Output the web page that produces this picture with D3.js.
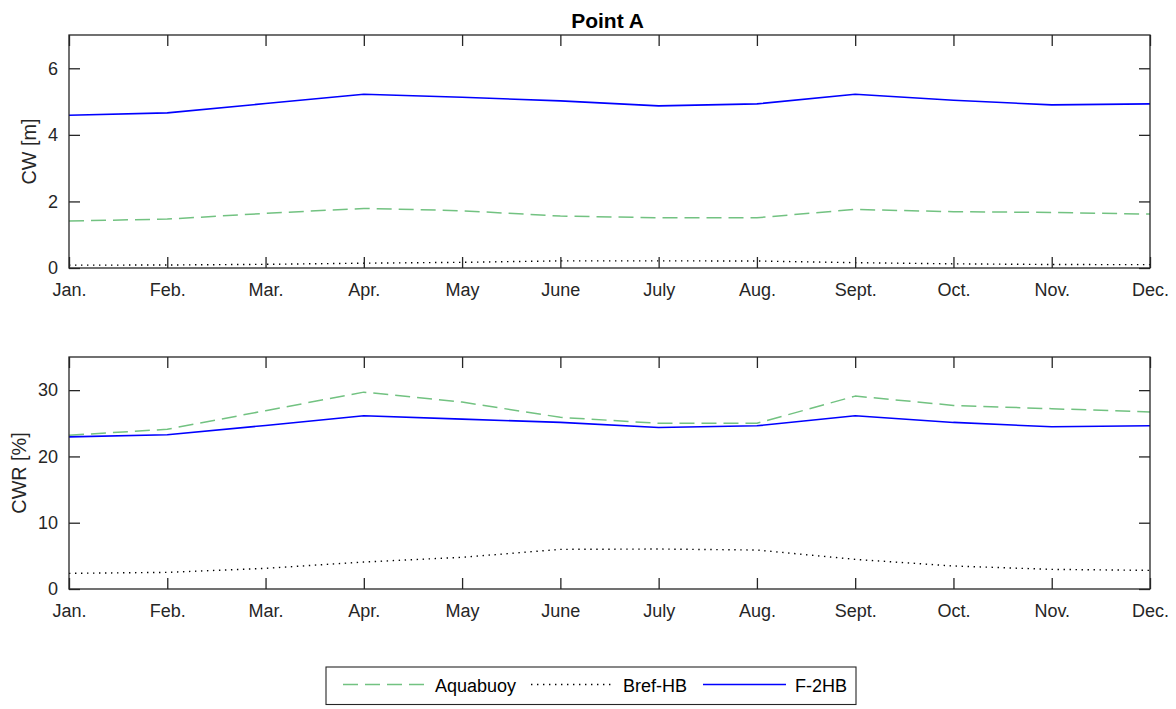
<!DOCTYPE html>
<html><head><meta charset="utf-8">
<script src="https://cdn.jsdelivr.net/npm/d3@7"></script>
<style>
body{margin:0;background:#fff;}
svg{display:block;font-family:"Liberation Sans",Arial,Helvetica,sans-serif;}
</style></head>
<body><svg id="chart" width="1176" height="709"></svg>
<script>
const months = ["Jan.","Feb.","Mar.","Apr.","May","June","July","Aug.","Sept.","Oct.","Nov.","Dec."];
const cwTicks = [0,2,4,6];
const cwrTicks = [0,10,20,30];
const seriesNames = ["Aquabuoy","Bref-HB","F-2HB"];

// CW [m]
const cwAquabuoy = [1.41,1.47,1.64,1.79,1.72,1.56,1.51,1.51,1.76,1.69,1.67,1.62];
const cwBrefHB   = [0.085,0.09,0.11,0.145,0.17,0.215,0.215,0.21,0.16,0.125,0.105,0.10];
const cwF2HB     = [4.59,4.66,4.94,5.22,5.13,5.02,4.87,4.93,5.22,5.04,4.90,4.93];

// CWR [%]
const cwrAquabuoy = [23.2,24.1,26.9,29.7,28.2,25.9,25.0,25.0,29.1,27.7,27.2,26.7];
const cwrBrefHB   = [2.36,2.51,3.12,4.07,4.78,5.98,6.03,5.88,4.47,3.47,2.96,2.81];
const cwrF2HB     = [22.95,23.27,24.67,26.13,25.63,25.13,24.37,24.62,26.13,25.13,24.47,24.62];

const styles = {
  "Aquabuoy": {color:"#72c281", dash:"15,7", width:1.5},
  "Bref-HB":  {color:"#000000", dash:"1.4,4.6", width:1.4},
  "F-2HB":    {color:"#0000ff", dash:null, width:1.6}
};
const axisColor = "#262626";
const svg = d3.select("#chart");

const x = d3.scalePoint().domain(months).range([69,1150]);

function panel(top, bottom, ymax, ticks, ylabel, ylabelX, data){
  const y = d3.scaleLinear().domain([0,ymax]).range([bottom, top]);
  const g = svg.append("g");
  const line = d3.line().x((d,i)=>x(months[i])).y(d=>y(d));
  seriesNames.forEach((n,k)=>{
    const s = styles[n];
    g.append("path").datum(data[k]).attr("d", line)
      .attr("fill","none").attr("stroke",s.color).attr("stroke-width",s.width)
      .attr("stroke-dasharray", s.dash).attr("stroke-linejoin","round");
  });
  const tl = 11;
  const fmt = d3.format("d");
  const xb = g.append("g").attr("transform",`translate(0,${bottom})`)
    .call(d3.axisBottom(x).tickSize(-tl).tickPadding(15));
  const xt = g.append("g").attr("transform",`translate(0,${top})`)
    .call(d3.axisTop(x).tickSize(-tl).tickFormat(""));
  const yl = g.append("g").attr("transform",`translate(${x.range()[0]},0)`)
    .call(d3.axisLeft(y).tickValues(ticks).tickFormat(fmt).tickSize(-tl).tickPadding(11));
  const yr = g.append("g").attr("transform",`translate(${x.range()[1]},0)`)
    .call(d3.axisRight(y).tickValues(ticks).tickSize(-tl).tickFormat(""));
  [xb,xt,yl,yr].forEach(a=>{
    a.select(".domain").remove();
    a.selectAll(".tick line").attr("stroke",axisColor).attr("stroke-width",1.3);
    a.selectAll(".tick text").attr("fill",axisColor).attr("font-size",18)
      .attr("font-family","Liberation Sans, Arial, sans-serif");
  });
  g.append("rect").attr("x",x.range()[0]).attr("y",top)
    .attr("width",x.range()[1]-x.range()[0]).attr("height",bottom-top)
    .attr("fill","none").attr("stroke",axisColor).attr("stroke-width",1.3);
  g.append("text").attr("transform",`translate(${ylabelX},${(top+bottom)/2}) rotate(-90)`)
    .attr("text-anchor","middle").attr("dy","0.35em")
    .attr("font-size",19.8).attr("fill",axisColor).text(ylabel);
}

panel(35, 268, 7, cwTicks, "CW [m]", 29, [cwAquabuoy, cwBrefHB, cwF2HB]);
panel(357, 589, 35, cwrTicks, "CWR [%]", 19, [cwrAquabuoy, cwrBrefHB, cwrF2HB]);

svg.append("text").attr("x",(x.range()[0]+x.range()[1])/2 - 2).attr("y",28)
  .attr("text-anchor","middle").attr("font-weight","bold").attr("font-size",21)
  .attr("fill","#000").text("Point A");

const lg = svg.append("g");
lg.append("rect").attr("x",326).attr("y",667).attr("width",530).attr("height",37.5)
  .attr("fill","#fff").attr("stroke",axisColor).attr("stroke-width",1.1);
const legendX = [343, 531, 703];
seriesNames.forEach((n,k)=>{
  const s = styles[n];
  lg.append("line").attr("x1",legendX[k]).attr("x2",legendX[k]+83)
    .attr("y1",684.5).attr("y2",684.5)
    .attr("stroke",s.color).attr("stroke-width",s.width).attr("stroke-dasharray",s.dash);
  lg.append("text").attr("x",legendX[k]+92).attr("y",691.5)
    .attr("font-size",18).attr("fill","#000").text(n);
});
</script></body></html>
